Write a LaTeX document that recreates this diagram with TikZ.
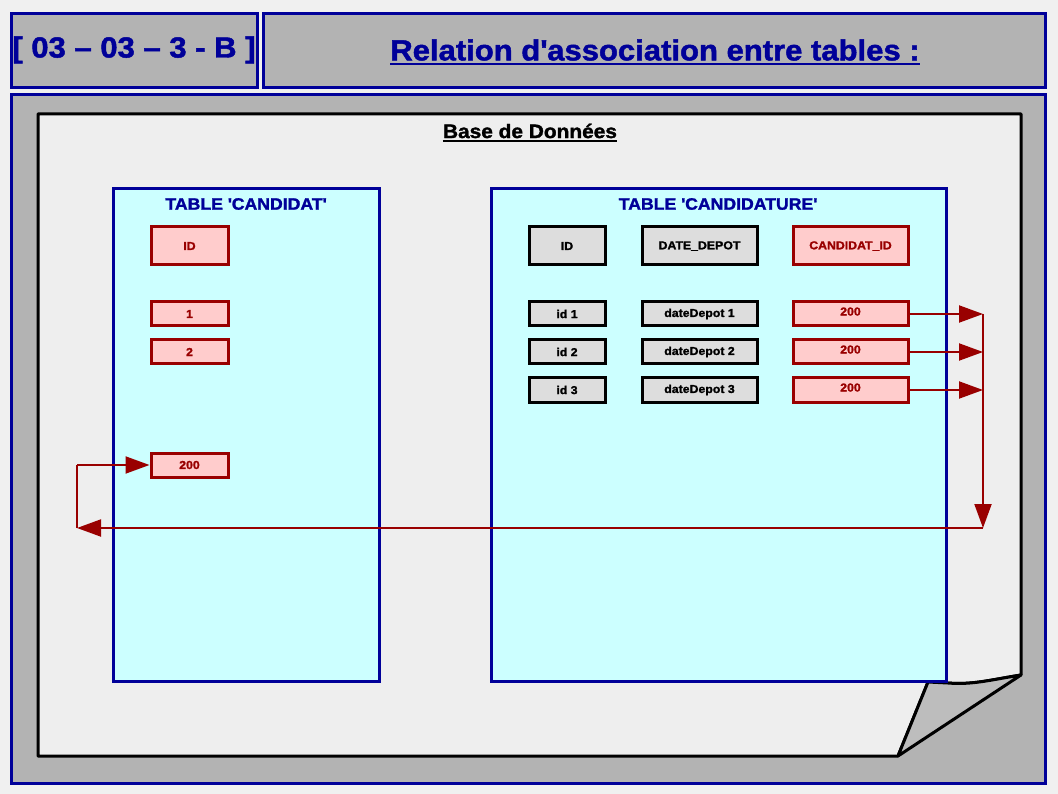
\documentclass[tikz,border=0pt]{standalone}
\usepackage{fontspec}
\setmainfont{Liberation Sans}[BoldFeatures={FakeBold=1.6,FakeStretch=1.07}]
\usetikzlibrary{arrows.meta}
\definecolor{bgcol}{HTML}{F0F0F0}
\definecolor{navy}{HTML}{000099}
\definecolor{panelgray}{HTML}{B3B3B3}
\definecolor{pagecol}{HTML}{EEEEEE}
\definecolor{foldcol}{HTML}{BDBDBD}
\definecolor{tablecol}{HTML}{CCFFFF}
\definecolor{keyred}{HTML}{990000}
\definecolor{keypink}{HTML}{FFCCCC}
\definecolor{cellgray}{HTML}{DDDDDD}
\newcommand{\sq}{\textquotesingle}
\tikzset{
  panel/.style={draw=navy, line width=3, fill=panelgray},
  tablebox/.style={draw=navy, line width=3, fill=tablecol},
  tabletitle/.style={text=navy, font=\bfseries\fontsize{16.5}{19}\selectfont, inner sep=0},
  redcell/.style={draw=keyred, line width=3, fill=keypink, text=keyred,
    font=\bfseries\fontsize{11.5}{13}\selectfont, inner sep=0, minimum width=77},
  graycell/.style={draw=black, line width=3, fill=cellgray, text=black,
    font=\bfseries\fontsize{11.5}{13}\selectfont, inner sep=0},
  headcell/.style={minimum height=38},
  rowcell/.style={minimum height=24},
  fk/.style={draw=keyred, line width=2, -{Triangle[length=24,width=17]}},
  fkline/.style={draw=keyred, line width=2}
}
\begin{document}
\begin{tikzpicture}[x=1pt,y=-1pt]
\useasboundingbox (0,0) rectangle (1058,794);
\fill[bgcol] (0,0) rectangle (1058,794);

% header panels
\draw[panel] (11,14) rectangle (257,88);
\draw[panel] (263,14) rectangle (1045,88);
\node[text=navy, font=\bfseries\fontsize{29}{33}\selectfont, inner sep=0] (code) at (134,50) {[ 03 – 03 – 3 - B ]};
\node[text=navy, font=\bfseries\fontsize{29}{33}\selectfont, inner sep=0] (ttl) at (655,50) {Relation d\sq association entre tables :};
\draw[navy, line width=2] ([yshift=-4]ttl.base west) -- ([yshift=-4]ttl.base east);

% main panel
\draw[panel] (11,95) rectangle (1045,783);

% database page with folded corner
\draw[line width=3, fill=pagecol, line join=round]
  (38,114) -- (1021,114) -- (1021,675)
  .. controls (990,680) and (972,685) .. (948,683)
  -- (928,682) -- (898,756) -- (38,756) -- cycle;
\draw[line width=3, fill=foldcol, line join=round]
  (928,682) -- (898,756) -- (1021,675)
  .. controls (990,680) and (972,685) .. (948,683) -- cycle;
\node[font=\bfseries\fontsize{19.5}{22}\selectfont, inner sep=0] (db) at (530,131) {Base de Données};
\draw[line width=2] ([yshift=-3]db.base west) -- ([yshift=-3]db.base east);

% table CANDIDAT
\draw[tablebox] (113,189) rectangle (379,681);
\node[tabletitle] (t1) at (246,204) {TABLE \sq CANDIDAT\sq};
\node[redcell, headcell] (cid) at (189.5,246) {ID};
\node[redcell, rowcell] (c1) at (189.5,314) {1};
\node[redcell, rowcell] (c2) at (189.5,352) {2};
\node[redcell, rowcell] (c200) at (189.5,465) {200};

% table CANDIDATURE
\draw[tablebox] (491,189) rectangle (946,681);
\node[tabletitle] (t2) at (718,204) {TABLE \sq CANDIDATURE\sq};
\node[graycell, headcell, minimum width=76] (hid) at (567,246) {ID};
\node[graycell, headcell, minimum width=115] (hdate) at (699.5,246) {DATE\_DEPOT};
\node[redcell, headcell, minimum width=115] (hcand) at (850.5,246) {CANDIDAT\_ID};

\node[graycell, rowcell, minimum width=76] (i1) at (567,314) {id 1};
\node[graycell, rowcell, minimum width=76] (i2) at (567,352) {id 2};
\node[graycell, rowcell, minimum width=76] (i3) at (567,390) {id 3};
\node[graycell, rowcell, minimum width=115] (d1) at (699.5,314) {dateDepot 1};
\node[graycell, rowcell, minimum width=115] (d2) at (699.5,352) {dateDepot 2};
\node[graycell, rowcell, minimum width=115] (d3) at (699.5,390) {dateDepot 3};
\node[redcell, rowcell, minimum width=115, text depth=5] (v1) at (850.5,314) {200};
\node[redcell, rowcell, minimum width=115, text depth=5] (v2) at (850.5,352) {200};
\node[redcell, rowcell, minimum width=115, text depth=5] (v3) at (850.5,390) {200};

% foreign key links
\coordinate (j1) at (983,314);
\coordinate (j2) at (983,352);
\coordinate (j3) at (983,390);
\coordinate (jb) at (983,528);
\coordinate (jl) at (77,528);
\coordinate (jt) at (77,465);
\draw[fk] (v1.east) -- (j1);
\draw[fk] (v2.east) -- (j2);
\draw[fk] (v3.east) -- (j3);
\draw[fk] (j1) -- (jb);
\draw[fk] (jb) -- (jl);
\draw[fkline] (jl) -- (jt);
\draw[fk] (jt) -- (c200.west);
\end{tikzpicture}
\end{document}
